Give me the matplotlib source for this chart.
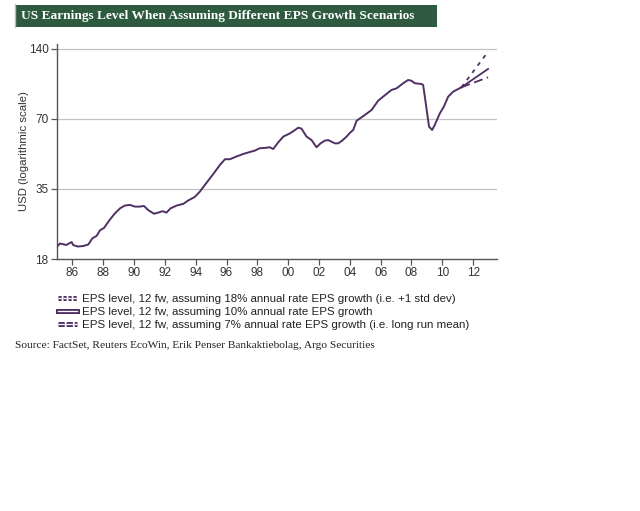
import matplotlib
matplotlib.use("Agg")
import matplotlib.pyplot as plt
import matplotlib.patheffects as pe
from matplotlib.lines import Line2D
from matplotlib.patches import Rectangle

# ---- data ----
eps_years = [1985.0, 1985.2, 1985.6, 1985.95, 1986.05, 1986.34, 1986.7, 1987.03, 1987.3, 1987.57,
             1987.8, 1988.05, 1988.44, 1988.76, 1989.09, 1989.4, 1989.73, 1990.06, 1990.38, 1990.64,
             1990.92, 1991.29, 1991.57, 1991.85, 1992.1, 1992.37, 1992.76, 1993.19, 1993.5, 1993.95,
             1994.27, 1994.7, 1995.14, 1995.57, 1995.9, 1996.22, 1996.65, 1997.08, 1997.52, 1997.84,
             1998.16, 1998.5, 1998.81, 1999.03, 1999.35, 1999.68, 2000.11, 2000.4, 2000.65, 2000.86,
             2001.19, 2001.52, 2001.84, 2002.1, 2002.38, 2002.6, 2003.03, 2003.25, 2003.5, 2003.79,
             2004.0, 2004.22, 2004.44, 2004.97, 2005.41, 2005.84, 2006.16, 2006.7, 2007.03, 2007.46,
             2007.78, 2007.99, 2008.22, 2008.65, 2008.76, 2009.14, 2009.34, 2009.51, 2009.84, 2010.1,
             2010.38, 2010.7, 2011.03, 2011.24]
eps_values = [19.8, 20.4, 20.1, 20.7, 20.1, 19.8, 19.9, 20.2, 21.5, 22.0,
              23.3, 23.8, 25.9, 27.5, 28.9, 29.7, 29.9, 29.4, 29.4, 29.6,
              28.4, 27.4, 27.7, 28.1, 27.7, 28.9, 29.7, 30.2, 31.2, 32.4,
              34.1, 37.2, 40.6, 44.4, 47.0, 47.0, 48.3, 49.5, 50.5, 51.2,
              52.4, 52.6, 52.9, 52.0, 55.5, 58.8, 60.7, 62.5, 64.2, 63.7,
              58.8, 56.8, 52.9, 55.0, 56.5, 56.8, 55.0, 55.0, 56.5, 58.8,
              61.0, 62.8, 68.8, 72.8, 76.5, 83.9, 87.3, 93.3, 94.8, 99.7,
              103.0, 102.3, 99.7, 99.0, 98.0, 64.9, 62.8, 66.0, 74.0, 79.1,
              87.3, 91.7, 94.2, 95.8]

fc_years = [2011.24, 2012.97]
fc_18 = [95.8, 136.3]
fc_10 = [95.8, 114.9]
fc_7 = [95.8, 105.8]

x_ticks = [1986, 1988, 1990, 1992, 1994, 1996, 1998, 2000, 2002, 2004, 2006, 2008, 2010, 2012]
x_labels = ["86", "88", "90", "92", "94", "96", "98", "00", "02", "04", "06", "08", "10", "12"]
y_ticks = [17.5, 35, 70, 140]
y_labels = ["18", "35", "70", "140"]

legend_labels = [
    "EPS level, 12 fw, assuming 18% annual rate EPS growth (i.e. +1 std dev)",
    "EPS level, 12 fw, assuming 10% annual rate EPS growth",
    "EPS level, 12 fw, assuming 7% annual rate EPS growth (i.e. long run mean)",
]
title = "US Earnings Level When Assuming Different EPS Growth Scenarios"
source = "Source: FactSet, Reuters EcoWin, Erik Penser Bankaktiebolag, Argo Securities"

# ---- style ----
PURPLE = "#4f3064"
GREEN = "#2e5a40"
W, H = 640, 511
plt.rcParams["font.family"] = ["Liberation Sans", "DejaVu Sans"]

fig = plt.figure(figsize=(W / 100, H / 100), dpi=100)
fig.patch.set_facecolor("white")

# title band
fig.patches.append(Rectangle((15 / W, 1 - 27 / H), (437 - 15) / W, 22 / H,
                             transform=fig.transFigure, facecolor=GREEN, edgecolor="none"))
fig.lines.append(Line2D([15 / W, 15 / W], [1 - 27 / H, 1 - 4 / H], transform=fig.transFigure,
                        color="#bbbbbb", lw=1))
fig.text(21 / W, 1 - 16.5 / H, title, color="white", fontsize=9.6, fontweight="bold",
         family=["Liberation Serif", "DejaVu Serif"], va="center", ha="left")

# axes
ax = fig.add_axes([57 / W, 1 - 259 / H, (497 - 57) / W, (259 - 44) / H])
ax.set_yscale("log")
ax.set_xlim(1985.0, 2013.55)
ax.set_ylim(17.5, 147.1)

for yv in [35, 70, 140]:
    ax.axhline(yv, color="#c4c4c4", lw=0.9, zorder=1)

ax.plot(eps_years, eps_values, color=PURPLE, lw=1.4, zorder=3, solid_joinstyle="round")
ax.plot(fc_years, fc_18, color=PURPLE, lw=1.3, ls=(0, (2.2, 2.8)), zorder=3)
ax.plot(fc_years, fc_10, color=PURPLE, lw=1.3, ls="-", zorder=3)
ax.plot(fc_years, fc_7, color=PURPLE, lw=1.3, ls=(0, (5, 2.5)), zorder=3)

ax.set_yticks(y_ticks)
ax.set_yticklabels(y_labels)
ax.yaxis.set_minor_locator(matplotlib.ticker.NullLocator())
ax.set_xticks(x_ticks)
ax.set_xticklabels(x_labels)
for s in ["top", "right"]:
    ax.spines[s].set_visible(False)
for s in ["left", "bottom"]:
    ax.spines[s].set_color("#555555")
    ax.spines[s].set_linewidth(1.0)
ax.tick_params(axis="both", direction="out", length=4, width=0.9, color="#555555",
               labelsize=8.5, labelcolor="#333333", pad=2)
ax.set_ylabel("USD (logarithmic scale)", fontsize=8.2, color="#333333")
ax.yaxis.set_label_coords(-28 / 440, 0.5)

# legend with double-line handles
def handle(ls):
    return Line2D([], [], color="white", lw=0.9, ls=ls,
                  path_effects=[pe.Stroke(linewidth=3.6, foreground=PURPLE), pe.Normal()])

handles = [handle((0, (2.5, 1.5))), handle("-"), handle((0, (5, 1.5)))]
fig.legend(handles, legend_labels, loc="upper left", bbox_to_anchor=(56 / W, 1 - 292 / H),
           frameon=False, fontsize=8.25, handlelength=1.6, handletextpad=0.45,
           labelspacing=0.26, borderaxespad=0, borderpad=0.2,
           labelcolor="#222222")

fig.text(15 / W, 1 - 345 / H, source, fontsize=8.2, color="#222222",
         family=["Liberation Serif", "DejaVu Serif"], va="center", ha="left")

fig.savefig("out.png", dpi=100, facecolor="white")
